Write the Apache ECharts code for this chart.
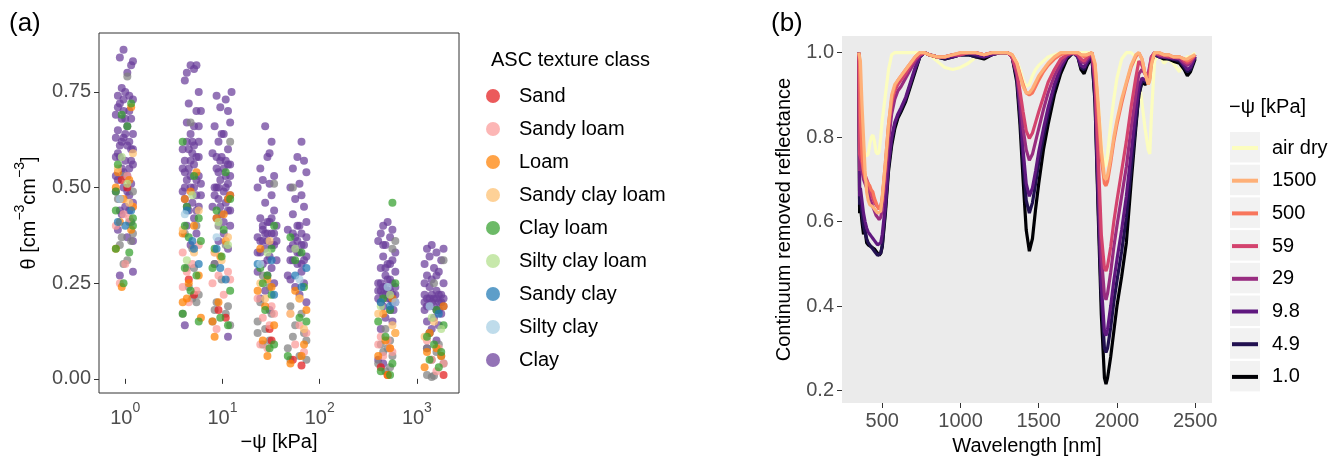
<!DOCTYPE html>
<html><head><meta charset="utf-8">
<script src="https://cdn.jsdelivr.net/npm/echarts@6/dist/echarts.min.js"></script>
<style>html,body{margin:0;padding:0;background:#fff}#c{width:1343px;height:461px}</style>
</head><body><div id="c"></div>
<script>
// ---------------- Panel (a) data: [-psi (kPa), theta] ----------------
const classNames = ['Sand','Sandy loam','Loam','Sandy clay loam','Clay loam','Silty clay loam','Sandy clay','Silty clay','Clay'];
const xTickValues = [1, 10, 100, 1000];
const xTickExponents = ['0', '1', '2', '3'];
const yTickValuesA = [0, 0.25, 0.5, 0.75];

const sand = [[0.92,0.52],[1.05,0.50],[4.5,0.26],[5.1,0.22],[9.1,0.18],[10.8,0.16],[30.5,0.13],[32,0.10],[53,0.05],[65,0.035],[425,0.03],[500,0.01],[1880,0.01]];
const sandyLoam = [[1.05,0.53],[0.96,0.43],[1.1,0.42],[0.8,0.40],[1.0,0.30],[0.88,0.25],[1.2,0.45],
 [5.7,0.35],[3.9,0.33],[4.9,0.30],[4.3,0.28],[3.9,0.24],[5.4,0.23],[4.5,0.20],
 [8.3,0.33],[11.4,0.28],[9.1,0.27],[12.0,0.26],[7.9,0.25],[10.3,0.22],[8.7,0.13],
 [23,0.21],[32,0.19],[34,0.17],[26,0.16],[30.5,0.14],[24.5,0.09],[29,0.08],
 [50,0.17],[62,0.14],[73,0.12],[56,0.09],[69,0.07],
 [425,0.11],[500,0.10],[400,0.09],[560,0.07],[450,0.06],[530,0.08],
 [1270,0.10],[1680,0.08],[1420,0.05],[1880,0.04],[1590,0.02]];
const loam = [[1.15,0.71],[0.84,0.54],[1.1,0.52],[0.8,0.50],[0.96,0.47],[1.2,0.45],[0.88,0.41],[1.15,0.39],[0.8,0.34],[0.92,0.24],
 [5.4,0.54],[4.7,0.49],[4.1,0.47],[5.1,0.40],[3.9,0.38],[5.7,0.27],[4.5,0.25],[4.3,0.21],[3.9,0.20],[6.0,0.16],
 [12.0,0.48],[11.4,0.47],[10.3,0.43],[8.7,0.42],[10.8,0.36],[9.5,0.32],[9.1,0.20],[7.9,0.15],[8.3,0.11],
 [24.5,0.34],[29,0.26],[32,0.24],[23,0.23],[27.5,0.19],[34,0.14],[29,0.06],[26,0.10],
 [56,0.23],[62,0.21],[69,0.09],[65,0.06],[50,0.04],[73,0.18],
 [560,0.21],[450,0.17],[600,0.12],[475,0.10],[530,0.08],[400,0.06],[500,0.01],
 [1880,0.19],[1350,0.12],[1590,0.08],[1270,0.07],[1200,0.03],[1780,0.06]];
const sandyClayLoam = [[1.2,0.59],[0.84,0.55],[1.1,0.46],[5.7,0.44],[3.9,0.39],[5.1,0.33],[11.4,0.37],[8.3,0.33],[9.8,0.31],
 [30.5,0.36],[24.5,0.25],[27.5,0.21],[62,0.21],[50,0.17],[69,0.13],[400,0.17],[560,0.14],[600,0.12],[1200,0.11],[1500,0.15]];
const clayLoam = [[1.15,0.72],[0.92,0.69],[1.05,0.66],[0.84,0.56],[0.8,0.49],[0.8,0.44],[1.2,0.42],[1.2,0.40],[0.8,0.34],[1.1,0.33],[0.96,0.25],
 [3.9,0.62],[5.1,0.53],[4.3,0.45],[5.7,0.42],[4.5,0.37],[6.0,0.36],[4.1,0.29],[5.4,0.27],[4.7,0.23],[3.9,0.17],[5.7,0.15],[4.1,0.40],
 [10.8,0.54],[12.0,0.47],[8.7,0.44],[10.3,0.39],[8.3,0.34],[9.8,0.32],[7.9,0.29],[12.0,0.23],[9.5,0.16],[11.4,0.14],
 [34,0.40],[32,0.34],[24.5,0.29],[29,0.27],[26,0.25],[32,0.22],[27.5,0.18],[34,0.09],[30.5,0.08],
 [50,0.37],[65,0.33],[56,0.31],[69,0.24],[62,0.16],[73,0.15],[47,0.06],
 [560,0.46],[600,0.25],[450,0.21],[530,0.18],[400,0.15],[475,0.11],[560,0.04],[530,0.01],[425,0.02],
 [1590,0.18],[1880,0.14],[1270,0.11],[1500,0.09],[1780,0.07],[1350,0.05],[1680,0.03]];
const siltyClayLoam = [[0.92,0.58],[1.05,0.51],[4.9,0.48],[4.3,0.31],[9.1,0.41],[11.4,0.35],[29,0.33],[56,0.34],[530,0.22],[425,0.19],[1420,0.16],[1780,0.13]];
const sandyClay = [[0.84,0.41],[1.0,0.40],[1.15,0.44],[4.3,0.44],[5.1,0.34],[5.7,0.30],[4.9,0.36],[9.5,0.29],[10.8,0.26],[8.7,0.34],
 [32,0.31],[23,0.30],[34,0.22],[73,0.29],[56,0.27],[65,0.24],[425,0.20],[530,0.19],[1680,0.17]];
const siltyClay = [[0.88,0.47],[4.1,0.43],[8.7,0.37],[24.5,0.30],[62,0.26],[600,0.20],[500,0.24],[1350,0.19]];
const clay = [[0.96,0.86],[0.88,0.84],[1.2,0.83],[1.15,0.82],[1.05,0.80],[0.92,0.76],[1.0,0.75],[0.84,0.74],[0.96,0.73],[1.2,0.73],[0.88,0.72],[1.1,0.70],[0.8,0.69],[0.92,0.68],[1.15,0.68],[1.05,0.66],[0.84,0.65],[1.2,0.64],[0.96,0.63],[1.1,0.62],[0.88,0.61],[1.15,0.60],[0.8,0.58],[1.0,0.57],[1.2,0.56],[0.92,0.55],[1.05,0.53],[0.84,0.52],[1.15,0.51],[0.96,0.50],[0.8,0.49],[1.1,0.48],[0.88,0.47],[1.2,0.46],[1.0,0.45],[0.92,0.43],[1.15,0.41],[0.84,0.39],[1.05,0.37],[1.2,0.36],[0.88,0.27],[1.2,0.28],[1.0,0.64],[0.88,0.58],[1.1,0.55],[0.96,0.70],[1.05,0.61],[0.8,0.53],
 [0.84,0.71],[1.1,0.74],[0.92,0.62],[1.2,0.60],[0.8,0.63],[1.15,0.57],[0.96,0.54],[1.05,0.49],[0.88,0.44],[1.1,0.44],[0.84,0.59],[1.0,0.68],
 [4.7,0.82],[5.4,0.82],[4.3,0.80],[5.1,0.81],[4.1,0.78],[5.7,0.75],[4.5,0.72],[5.4,0.70],[6.0,0.70],[4.3,0.67],[5.1,0.66],[4.7,0.64],[5.7,0.62],[3.9,0.60],[4.9,0.59],[5.4,0.58],[4.1,0.57],[5.1,0.56],[4.5,0.55],[5.7,0.53],[4.3,0.52],[6.0,0.51],[4.7,0.50],[3.9,0.49],[5.4,0.48],[4.1,0.47],[4.9,0.46],[5.7,0.45],[4.5,0.44],[5.1,0.42],[4.3,0.40],[5.4,0.38],[4.7,0.35],[4.1,0.14],[4.9,0.62],[4.1,0.54],[5.7,0.58],[4.5,0.60],[5.1,0.50],[4.3,0.45],
 [3.9,0.55],[4.7,0.57],[5.4,0.52],[6.0,0.48],[4.3,0.62],[5.1,0.61],[4.7,0.53],[5.7,0.66],[4.1,0.50],[5.4,0.44],
 [12.4,0.75],[8.7,0.74],[10.8,0.73],[9.5,0.71],[11.4,0.70],[12.0,0.67],[8.3,0.66],[10.3,0.64],[9.1,0.62],[11.4,0.60],[7.9,0.59],[9.8,0.58],[12.0,0.56],[8.7,0.55],[10.8,0.53],[9.5,0.52],[11.4,0.51],[8.3,0.50],[10.3,0.49],[12.0,0.48],[9.1,0.47],[10.8,0.46],[7.9,0.45],[11.4,0.44],[9.8,0.43],[8.7,0.42],[12.0,0.40],[10.3,0.38],[9.1,0.36],[11.4,0.34],[8.3,0.30],[11.4,0.11],[9.5,0.57],[12.0,0.53],[8.7,0.50],[10.8,0.57],[9.1,0.54],[11.4,0.47],
 [9.8,0.64],[8.7,0.58],[10.3,0.55],[11.4,0.56],[9.1,0.50],[12.0,0.44],[10.8,0.50],[9.5,0.45],[10.3,0.41],[8.3,0.48],
 [27.5,0.66],[32,0.62],[30.5,0.59],[29,0.58],[24.5,0.55],[34,0.53],[26,0.52],[30.5,0.51],[23,0.50],[32,0.48],[27.5,0.46],[34,0.44],[24.5,0.42],[29,0.41],[36,0.40],[26,0.39],[32,0.38],[23,0.37],[29,0.36],[34,0.35],[27.5,0.34],[24.5,0.33],[30.5,0.32],[36,0.31],[26,0.30],[32,0.29],[23,0.28],[29,0.27],[34,0.25],[27.5,0.23],[24.5,0.21],[30.5,0.18],[26,0.40],[32,0.42],[29,0.38],[24.5,0.36],
 [30.5,0.41],[26,0.36],[34,0.38],[23,0.33],[29,0.31],[32,0.35],[27.5,0.38],[36,0.36],
 [65,0.62],[59,0.58],[69,0.57],[53,0.55],[73,0.54],[62,0.51],[50,0.50],[65,0.48],[56,0.47],[69,0.45],[53,0.43],[73,0.41],[59,0.40],[47,0.39],[65,0.38],[56,0.37],[69,0.35],[50,0.34],[62,0.33],[73,0.32],[53,0.31],[59,0.30],[65,0.28],[47,0.27],[69,0.25],[56,0.24],[62,0.22],[73,0.20],[50,0.26],[59,0.36],[53,0.38],[65,0.35],
 [62,0.40],[56,0.34],[69,0.31],[53,0.35],[73,0.37],[59,0.33],[50,0.31],[65,0.30],
 [500,0.41],[450,0.40],[560,0.39],[425,0.38],[530,0.37],[400,0.36],[475,0.35],[600,0.33],[450,0.32],[560,0.31],[500,0.30],[425,0.29],[600,0.28],[475,0.27],[530,0.26],[400,0.25],[560,0.25],[450,0.24],[600,0.24],[425,0.23],[530,0.23],[475,0.22],[560,0.22],[400,0.21],[500,0.21],[600,0.20],[450,0.19],[530,0.18],[475,0.16],[560,0.15],[425,0.13],[400,0.05],[450,0.04],[500,0.26],[425,0.20],[575,0.18],[475,0.29],
 [450,0.22],[530,0.21],[500,0.23],[425,0.25],[560,0.20],[475,0.24],[600,0.22],[400,0.23],[530,0.30],[450,0.35],
 [1420,0.35],[1270,0.34],[1590,0.33],[1350,0.32],[1780,0.31],[1200,0.30],[1500,0.29],[1680,0.28],[1270,0.27],[1420,0.26],[1880,0.25],[1350,0.24],[1590,0.23],[1200,0.22],[1780,0.22],[1500,0.21],[1270,0.21],[1680,0.20],[1420,0.20],[1880,0.19],[1350,0.19],[1590,0.18],[1200,0.18],[1780,0.17],[1500,0.16],[1270,0.15],[1680,0.14],[1420,0.13],[1350,0.12],[1590,0.10],[1270,0.08],[1880,0.34],[1200,0.20],[1680,0.22],
 [1350,0.21],[1500,0.19],[1590,0.21],[1780,0.20],[1270,0.19],[1420,0.22],[1880,0.21],[1680,0.18],[1200,0.25],[1590,0.27]];
const unclassified = [[1.05,0.79],[0.96,0.53],[1.2,0.49],[0.84,0.47],[1.1,0.41],[0.92,0.37],[1.15,0.36],[0.88,0.35],[1.05,0.31],[0.96,0.30],[1.2,0.38],
 [4.7,0.67],[5.4,0.40],[4.1,0.38],[4.9,0.34],[4.3,0.29],[5.1,0.29],[4.5,0.24],[5.7,0.22],[4.9,0.21],[5.4,0.20],[3.9,0.17],
 [12.0,0.62],[9.1,0.40],[10.8,0.35],[8.3,0.30],[9.8,0.26],[8.7,0.20],[11.4,0.19],[8.3,0.18],[10.8,0.17],[7.9,0.15],[12.0,0.14],
 [34,0.51],[26,0.27],[30.5,0.24],[24.5,0.20],[32,0.17],[23,0.15],[27.5,0.13],[23,0.12],[30.5,0.10],[26,0.09],
 [53,0.50],[50,0.19],[65,0.17],[56,0.14],[69,0.12],[53,0.11],[73,0.10],[47,0.08],[62,0.06],[50,0.05],[73,0.05],
 [600,0.36],[560,0.34],[475,0.13],[530,0.10],[425,0.09],[500,0.08],[450,0.07],[560,0.06],[400,0.04],[530,0.03],[475,0.02],
 [1880,0.31],[1500,0.25],[1350,0.12],[1680,0.09],[1270,0.08],[1590,0.07],[1780,0.06],[1420,0.05],[1880,0.04],[1270,0.01],[1420,0.005],[1500,0.008]];

// ---------------- Panel (b) data ----------------
const psiLabels = ['air dry','1500','500','59','29','9.8','4.9','1.0'];
const xTickValuesB = [500, 1000, 1500, 2000, 2500];
const yTickValuesB = [0.2, 0.4, 0.6, 0.8, 1.0];
const wavelength = [350,355,360,370,380,390,400,410,420,430, 440,450,460,470,480,490,500,520,540,560,
 580,600,620,650,680,710,740,770,800,850, 900,950,1000,1050,1100,1150,1200,1250,1300,1330,
 1360,1380,1400,1420,1440,1460,1480,1500,1530,1560, 1600,1640,1680,1720,1750,1770,1790,1810,1840,1860,
 1880,1900,1920,1930,1940,1960,1980,2000,2030,2060, 2090,2120,2140,2160,2180,2200,2210,2220,2240,2270,
 2300,2330,2360,2400,2430,2450,2470,2500];
const reflAirDry = [1.0,0.95,0.88,0.80,0.77,0.76,0.755,0.76,0.785,0.80, 0.805,0.79,0.765,0.76,0.765,0.80,0.84,0.90,0.96,0.995,
 1.0,1.0,1.0,1.0,1.0,1.0,1.0,1.0,0.995,0.98, 0.965,0.96,0.965,0.975,0.99,0.995,1.0,1.0,1.0,0.995,
 0.98,0.96,0.935,0.92,0.925,0.945,0.96,0.97,0.98,0.99, 0.995,1.0,1.0,1.0,1.0,1.0,1.0,1.0,1.0,0.97,
 0.88,0.78,0.73,0.735,0.76,0.83,0.89,0.94,0.985,1.0, 1.0,0.99,0.94,0.88,0.82,0.77,0.76,0.85,0.98,1.0,
 0.975,0.985,0.975,0.955,0.985,0.99,0.99,1.0];
const refl1500 = [1.0,1.0,0.98,0.88,0.80,0.72,0.67,0.65,0.64,0.64, 0.635,0.63,0.625,0.62,0.62,0.625,0.66,0.74,0.83,0.90,
 0.925,0.935,0.945,0.96,0.975,0.99,1.0,1.0,0.995,0.99, 0.99,0.995,1.0,1.0,1.0,0.995,1.0,1.0,1.0,0.995,
 0.975,0.945,0.92,0.905,0.905,0.915,0.93,0.945,0.96,0.975, 0.99,1.0,1.0,1.0,1.0,0.995,0.995,0.995,1.0,0.975,
 0.88,0.77,0.705,0.70,0.71,0.75,0.80,0.84,0.89,0.93, 0.97,0.995,1.0,0.985,0.95,0.925,0.935,0.97,1.0,1.0,
 0.995,0.995,0.99,0.99,0.985,0.985,0.99,0.995];
const refl500 = [1.0,0.98,0.85,0.76,0.72,0.70,0.695,0.69,0.685,0.675, 0.67,0.655,0.645,0.635,0.63,0.635,0.655,0.74,0.83,0.89,
 0.92,0.935,0.945,0.96,0.975,0.99,1.0,1.0,0.995,0.99, 0.99,0.995,1.0,1.0,1.0,0.995,1.0,1.0,1.0,0.995,
 0.975,0.95,0.925,0.905,0.90,0.905,0.92,0.935,0.955,0.97, 0.985,0.995,1.0,1.0,1.0,0.995,0.99,0.995,1.0,0.97,
 0.86,0.75,0.69,0.685,0.695,0.74,0.79,0.83,0.88,0.925, 0.965,0.99,1.0,0.985,0.95,0.925,0.94,0.975,1.0,1.0,
 0.995,0.995,0.99,0.99,0.985,0.98,0.985,0.995];
const refl59 = [1.0,0.76,0.76,0.74,0.72,0.71,0.70,0.69,0.675,0.665, 0.655,0.645,0.64,0.635,0.63,0.635,0.655,0.73,0.82,0.88,
 0.91,0.925,0.935,0.95,0.97,0.985,0.995,1.0,0.995,0.99, 0.99,0.995,0.995,1.0,1.0,0.995,1.0,1.0,1.0,0.99,
 0.955,0.91,0.86,0.815,0.797,0.81,0.835,0.86,0.895,0.93, 0.96,0.985,0.995,1.0,0.995,0.985,0.98,0.99,1.0,0.94,
 0.76,0.57,0.49,0.483,0.495,0.54,0.60,0.65,0.72,0.79, 0.87,0.94,0.98,0.97,0.95,0.945,0.965,0.99,1.0,0.995,
 0.995,0.99,0.99,0.99,0.98,0.975,0.98,0.995];
const refl29 = [1.0,0.72,0.74,0.72,0.70,0.69,0.68,0.67,0.655,0.645, 0.635,0.625,0.615,0.61,0.605,0.61,0.63,0.70,0.79,0.855,
 0.89,0.91,0.92,0.94,0.96,0.98,0.995,1.0,0.995,0.99, 0.99,0.995,0.995,1.0,1.0,0.995,1.0,1.0,1.0,0.99,
 0.95,0.89,0.82,0.77,0.745,0.76,0.79,0.82,0.865,0.905, 0.945,0.975,0.995,1.0,0.995,0.98,0.975,0.985,1.0,0.93,
 0.72,0.52,0.425,0.415,0.43,0.48,0.54,0.59,0.66,0.73, 0.82,0.90,0.95,0.96,0.95,0.95,0.97,0.99,1.0,0.995,
 0.99,0.99,0.99,0.985,0.975,0.97,0.975,0.995];
const refl9_8 = [1.0,0.66,0.68,0.65,0.62,0.60,0.585,0.575,0.57,0.565, 0.56,0.555,0.55,0.545,0.545,0.55,0.57,0.64,0.74,0.80,
 0.835,0.855,0.87,0.895,0.93,0.965,0.99,1.0,0.995,0.99, 0.99,0.99,0.995,1.0,0.995,0.99,0.995,1.0,1.0,0.99,
 0.945,0.87,0.77,0.69,0.66,0.68,0.72,0.765,0.82,0.87, 0.925,0.965,0.99,1.0,0.99,0.97,0.965,0.98,0.995,0.91,
 0.67,0.45,0.34,0.33,0.345,0.40,0.46,0.51,0.58,0.66, 0.76,0.86,0.92,0.94,0.935,0.94,0.96,0.985,1.0,0.99,
 0.99,0.99,0.985,0.985,0.97,0.96,0.965,0.99];
const refl4_9 = [1.0,0.64,0.66,0.62,0.59,0.575,0.56,0.55,0.545,0.54, 0.535,0.53,0.525,0.52,0.52,0.525,0.545,0.63,0.73,0.79,
 0.83,0.85,0.865,0.89,0.925,0.96,0.99,1.0,0.995,0.99, 0.985,0.99,0.995,0.995,0.99,0.99,0.995,1.0,1.0,0.99,
 0.94,0.85,0.74,0.65,0.62,0.645,0.69,0.74,0.80,0.855, 0.915,0.96,0.99,1.0,0.99,0.965,0.96,0.975,0.99,0.89,
 0.64,0.42,0.30,0.29,0.30,0.35,0.41,0.46,0.53,0.61, 0.72,0.83,0.90,0.935,0.93,0.935,0.955,0.98,0.995,0.99,
 0.99,0.985,0.985,0.98,0.965,0.955,0.96,0.99];
const refl1_0 = [1.0,0.62,0.64,0.60,0.57,0.58,0.55,0.545,0.545,0.54, 0.54,0.535,0.53,0.525,0.52,0.525,0.54,0.62,0.72,0.78,
 0.82,0.845,0.86,0.885,0.92,0.955,0.99,1.0,0.995,0.99, 0.985,0.99,0.995,0.995,0.99,0.985,0.995,1.0,1.0,0.99,
 0.93,0.83,0.70,0.58,0.53,0.56,0.63,0.69,0.77,0.83, 0.90,0.95,0.985,1.0,0.99,0.96,0.95,0.97,0.99,0.88,
 0.62,0.38,0.23,0.215,0.23,0.28,0.34,0.40,0.47,0.55, 0.69,0.82,0.90,0.93,0.925,0.93,0.95,0.98,0.995,0.99,
 0.985,0.985,0.98,0.975,0.96,0.945,0.955,0.985];

// ---------------- styles ----------------
const FONT = 'Liberation Sans, Arial, Helvetica, sans-serif';
const classColors = ['#E31A1C','#FB9A99','#FF7F00','#FDBF6F','#33A02C','#B2DF8A','#1F78B4','#A6CEE3','#6A3D9A'];
const unclassifiedColor = '#7F7F7F';
const psiColors = ['#FCFDBF','#FEB078','#F8765C','#D3436E','#982D80','#5F187F','#221150','#000004'];
const tickGray = '#4D4D4D';

const classData = [sand, sandyLoam, loam, sandyClayLoam, clayLoam, siltyClayLoam, sandyClay, siltyClay, clay];
const spectra = [reflAirDry, refl1500, refl500, refl59, refl29, refl9_8, refl4_9, refl1_0];

const series = [];
function scatterSeries(name, data, color) {
  return { type: 'scatter', name: name, xAxisIndex: 0, yAxisIndex: 0, data: data,
    symbolSize: 8, itemStyle: { color: color, opacity: 0.72 }, emphasis: { disabled: true } };
}
series.push(scatterSeries('Clay', clay, classColors[8]));
series.push(scatterSeries('NA', unclassified, unclassifiedColor));
for (let i = 0; i < 8; i++) series.push(scatterSeries(classNames[i], classData[i], classColors[i]));

const drawOrder = [0, 7, 6, 5, 4, 3, 2, 1];
drawOrder.forEach(function (i) {
  series.push({ type: 'line', name: psiLabels[i], xAxisIndex: 1, yAxisIndex: 1,
    data: wavelength.map(function (w, k) { return [w, spectra[i][k]]; }),
    showSymbol: false, symbol: 'none', smooth: false,
    lineStyle: { color: psiColors[i], width: 3.2 }, itemStyle: { color: psiColors[i] },
    emphasis: { disabled: true } });
});

const keyGraphics = psiLabels.map(function (l, i) {
  return { type: 'rect', shape: { x: 1230, y: 132 + i * 32.7, width: 30, height: 30.5 },
    style: { fill: '#F2F2F2' }, z: -1 };
});

const tickLabelStyle = { color: tickGray, fontSize: 20, fontFamily: FONT };
const nameStyle = { color: '#000', fontSize: 20, fontFamily: FONT };

const option = {
  animation: false,
  backgroundColor: '#fff',
  textStyle: { fontFamily: FONT },
  title: [
    { text: '(a)', left: 9, top: 11, padding: 0, textStyle: { fontSize: 26, fontWeight: 'normal', color: '#000', fontFamily: FONT } },
    { text: '(b)', left: 771, top: 11, padding: 0, textStyle: { fontSize: 26, fontWeight: 'normal', color: '#000', fontFamily: FONT } },
    { text: 'ASC texture class', left: 491, top: 50, padding: 0, textStyle: { fontSize: 20, fontWeight: 'normal', color: '#000', fontFamily: FONT } },
    { text: '−ψ [kPa]', left: 1229, top: 97, padding: 0, textStyle: { fontSize: 20, fontWeight: 'normal', color: '#000', fontFamily: FONT } }
  ],
  graphic: keyGraphics,
  legend: [
    { data: classNames, orient: 'vertical', left: 486, top: 85, padding: 0, itemGap: 11,
      icon: 'circle', itemWidth: 42, itemHeight: 14, selectedMode: false,
      textStyle: { fontSize: 20, lineHeight: 22, color: '#000', fontFamily: FONT } },
    { data: psiLabels, orient: 'vertical', left: 1232, top: 137, padding: 0, itemGap: 10.7,
      icon: 'rect', itemWidth: 26, itemHeight: 4, selectedMode: false,
      textStyle: { fontSize: 20, lineHeight: 22, color: '#000', fontFamily: FONT, padding: [0, 0, 0, 9] } }
  ],
  grid: [
    { left: 99, top: 33, width: 360, height: 360, show: true, borderColor: '#333', borderWidth: 1, backgroundColor: 'transparent' },
    { left: 842, top: 36, width: 370, height: 371, show: true, borderWidth: 0, backgroundColor: '#EBEBEB' }
  ],
  xAxis: [
    { type: 'log', logBase: 10, gridIndex: 0, min: 0.537, max: 2711,
      axisLine: { show: false }, splitLine: { show: false },
      axisTick: { show: true, customValues: xTickValues, length: 5, lineStyle: { color: '#333' } },
      axisLabel: { customValues: xTickValues, margin: 8,
        formatter: function (v) { const e = xTickExponents[Math.round(Math.log10(v))]; return '{b|10}{s|' + e + '}'; },
        rich: { b: { fontSize: 20, color: tickGray, fontFamily: FONT, verticalAlign: 'bottom', lineHeight: 27 },
                s: { fontSize: 14, color: tickGray, fontFamily: FONT, verticalAlign: 'top', lineHeight: 14 } } },
      name: '−ψ [kPa]', nameLocation: 'middle', nameGap: 35, nameTextStyle: nameStyle },
    { type: 'value', gridIndex: 1, min: 242.5, max: 2607.5,
      axisLine: { show: false }, splitLine: { show: false },
      axisTick: { show: true, customValues: xTickValuesB, length: 5, lineStyle: { color: '#333' } },
      axisLabel: Object.assign({ customValues: xTickValuesB, margin: 8, formatter: function (v) { return String(v); } }, tickLabelStyle),
      name: 'Wavelength [nm]', nameLocation: 'middle', nameGap: 33, nameTextStyle: nameStyle }
  ],
  yAxis: [
    { type: 'value', gridIndex: 0, min: -0.037, max: 0.904,
      axisLine: { show: false }, splitLine: { show: false },
      axisTick: { show: true, customValues: yTickValuesA, length: 5, lineStyle: { color: '#333' } },
      axisLabel: Object.assign({ customValues: yTickValuesA, margin: 8, formatter: function (v) { return v.toFixed(2); } }, tickLabelStyle),
      name: '{t|θ [cm}{s|−3}{t|cm}{s|−3}{t|]}', nameLocation: 'middle', nameGap: 60,
      nameTextStyle: { rich: { t: { fontSize: 20, color: '#000', fontFamily: FONT, verticalAlign: 'bottom', lineHeight: 26 },
                               s: { fontSize: 14, color: '#000', fontFamily: FONT, verticalAlign: 'top', lineHeight: 14 } } } },
    { type: 'value', gridIndex: 1, min: 0.1705, max: 1.0395,
      axisLine: { show: false }, splitLine: { show: false },
      axisTick: { show: true, customValues: yTickValuesB, length: 5, lineStyle: { color: '#333' } },
      axisLabel: Object.assign({ customValues: yTickValuesB, margin: 8, formatter: function (v) { return v.toFixed(1); } }, tickLabelStyle),
      name: 'Continuum removed reflectance', nameLocation: 'middle', nameGap: 48, nameTextStyle: nameStyle }
  ],
  series: series
};

const chart = echarts.init(document.getElementById('c'), null, { renderer: 'canvas' });
chart.setOption(option);
</script>
</body></html>
